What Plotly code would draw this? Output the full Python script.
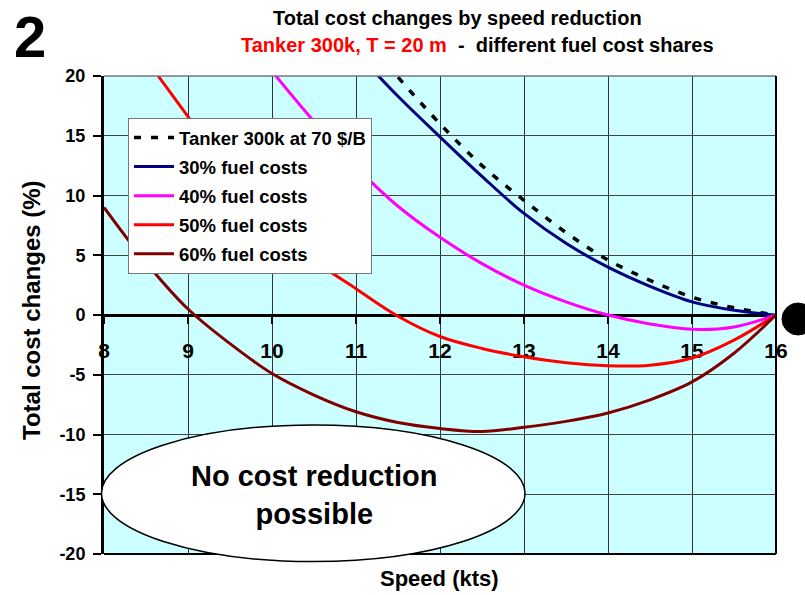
import plotly.graph_objects as go

# Speed (kts) sample points for each curve
speed_60 = [8, 8.5, 9, 9.5, 10, 10.5, 11, 11.5, 12, 12.5, 13, 13.5, 14, 14.5, 15, 15.5, 16]
cost_60 = [9.0, 4.4, 0.5, -2.4, -4.9, -6.7, -8.1, -9.0, -9.5, -9.75, -9.4, -8.9, -8.2, -7.1, -5.6, -3.2, 0.0]

speed_50 = [8.5, 9, 9.5, 10, 10.5, 11, 11.5, 12, 12.5, 13, 13.5, 14, 14.5, 15, 15.5, 16]
cost_50 = [21.4, 16.6, 11.9, 7.9, 4.6, 2.2, -0.1, -1.8, -2.8, -3.5, -4.0, -4.25, -4.2, -3.6, -2.1, 0.0]

speed_40 = [10, 10.5, 11, 11.5, 12, 12.5, 13, 13.5, 14, 14.5, 15, 15.5, 16]
cost_40 = [20.4, 16.2, 12.4, 9.1, 6.5, 4.3, 2.5, 1.1, 0.0, -0.75, -1.2, -1.0, 0.0]

speed_30 = [11, 11.5, 12, 12.5, 13, 13.5, 14, 14.5, 15, 15.5, 16]
cost_30 = [22.0, 18.3, 14.9, 11.6, 8.5, 6.0, 4.0, 2.4, 1.1, 0.4, 0.0]

speed_ref = [11.5, 12, 12.5, 13, 13.5, 14, 14.5, 15, 15.5, 16]
cost_ref = [19.9, 16.0, 12.5, 9.6, 6.9, 4.6, 2.9, 1.5, 0.6, 0.0]

x_ticks = [8, 9, 10, 11, 12, 13, 14, 15, 16]
y_ticks = [-20, -15, -10, -5, 0, 5, 10, 15, 20]

FONT = "Liberation Sans, Arial, sans-serif"

series = [
    ("Tanker 300k at 70 $/B", speed_ref, cost_ref, "#000000", "7px,10px", 3.5),
    ("30% fuel costs", speed_30, cost_30, "#000080", "solid", 3),
    ("40% fuel costs", speed_40, cost_40, "#FF00FF", "solid", 3),
    ("50% fuel costs", speed_50, cost_50, "#FF0000", "solid", 3),
    ("60% fuel costs", speed_60, cost_60, "#800000", "solid", 3),
]

fig = go.Figure()
for name, xs, ys, color, dash, width in series:
    fig.add_trace(go.Scatter(
        x=xs, y=ys, name=name, mode="lines", legendgroup=name,
        line=dict(color=color, width=width, dash=dash, shape="spline", smoothing=1.0),
    ))

# plot area in pixels: x 104..776, y 76..554
L, R, T, B = 104, 776, 76, 554
W, H = R - L, B - T


def px(xp):
    return (xp - L) / W


def py(yp):
    return (B - yp) / H


fig.update_layout(
    width=805, height=595,
    margin=dict(l=L, r=805 - R, t=T, b=595 - B),
    paper_bgcolor="white",
    plot_bgcolor="#CCFFFF",
    showlegend=True,
    legend=dict(
        x=px(128), y=py(118), xanchor="left", yanchor="top",
        bgcolor="white", bordercolor="#777777", borderwidth=1,
        font=dict(family=FONT, size=18.5, color="black", weight="bold"),
        traceorder="grouped", tracegroupgap=2,
        itemwidth=40,
    ),
    xaxis=dict(
        range=[8, 16], tickvals=x_ticks, ticktext=[str(v) for v in x_ticks],
        anchor="free", position=0.5,
        showline=True, linecolor="black", linewidth=3,
        ticks="outside", ticklen=7, tickwidth=2, tickcolor="black",
        ticklabelstandoff=9,
        tickfont=dict(family=FONT, size=21, color="black", weight="bold"),
        showgrid=True, gridcolor="#333333", gridwidth=1,
        zeroline=False, layer="below traces",
    ),
    yaxis=dict(
        range=[-20, 20], tickvals=y_ticks, ticktext=[str(v) for v in y_ticks],
        showline=True, linecolor="black", linewidth=3,
        ticks="outside", ticklen=8, tickwidth=2, tickcolor="black",
        ticklabelstandoff=4,
        tickfont=dict(family=FONT, size=18, color="black", weight="bold"),
        showgrid=True, gridcolor="#444444", gridwidth=1,
        zeroline=False,
    ),
)

shapes = [
    # plot frame (top, right, bottom)
    dict(type="line", xref="paper", yref="paper", x0=0, x1=1, y0=1, y1=1,
         line=dict(color="#777777", width=1.5), layer="above"),
    dict(type="line", xref="paper", yref="paper", x0=1, x1=1, y0=0, y1=1,
         line=dict(color="black", width=2), layer="above"),
    dict(type="line", xref="paper", yref="paper", x0=0, x1=1, y0=0, y1=0,
         line=dict(color="black", width=2), layer="above"),
    # callout ellipse
    dict(type="circle", xref="paper", yref="paper",
         x0=px(101.5), x1=px(525), y0=py(561.5), y1=py(425),
         fillcolor="white", line=dict(color="black", width=1.5), layer="above"),
    # marker dot at the 16 kts reference speed
    dict(type="circle", xref="paper", yref="paper",
         x0=px(782), x1=px(814), y0=py(335), y1=py(303),
         fillcolor="black", line=dict(color="black", width=1), layer="above"),
]
fig.update_layout(shapes=shapes)


def note(text, x, y, size, angle=0):
    return dict(text=text, x=px(x), y=py(y), xref="paper", yref="paper",
                xanchor="center", yanchor="middle", showarrow=False,
                textangle=angle, align="center",
                font=dict(family=FONT, size=size, color="black", weight="bold"))


annotations = [
    note("2", 30, 36, 58),
    note("Total cost changes by speed reduction", 457, 18, 20),
    note("<span style='color:#FF0000'>Tanker 300k, T = 20 m</span>  -  different fuel cost shares",
         477, 45, 20),
    note("Total cost changes (%)", 31, 310, 24, angle=-90),
    note("Speed (kts)", 439, 578, 22),
    note("No cost reduction<br>possible", 314, 495, 29),
]
fig.update_layout(annotations=annotations)

fig.write_html("out.html")
